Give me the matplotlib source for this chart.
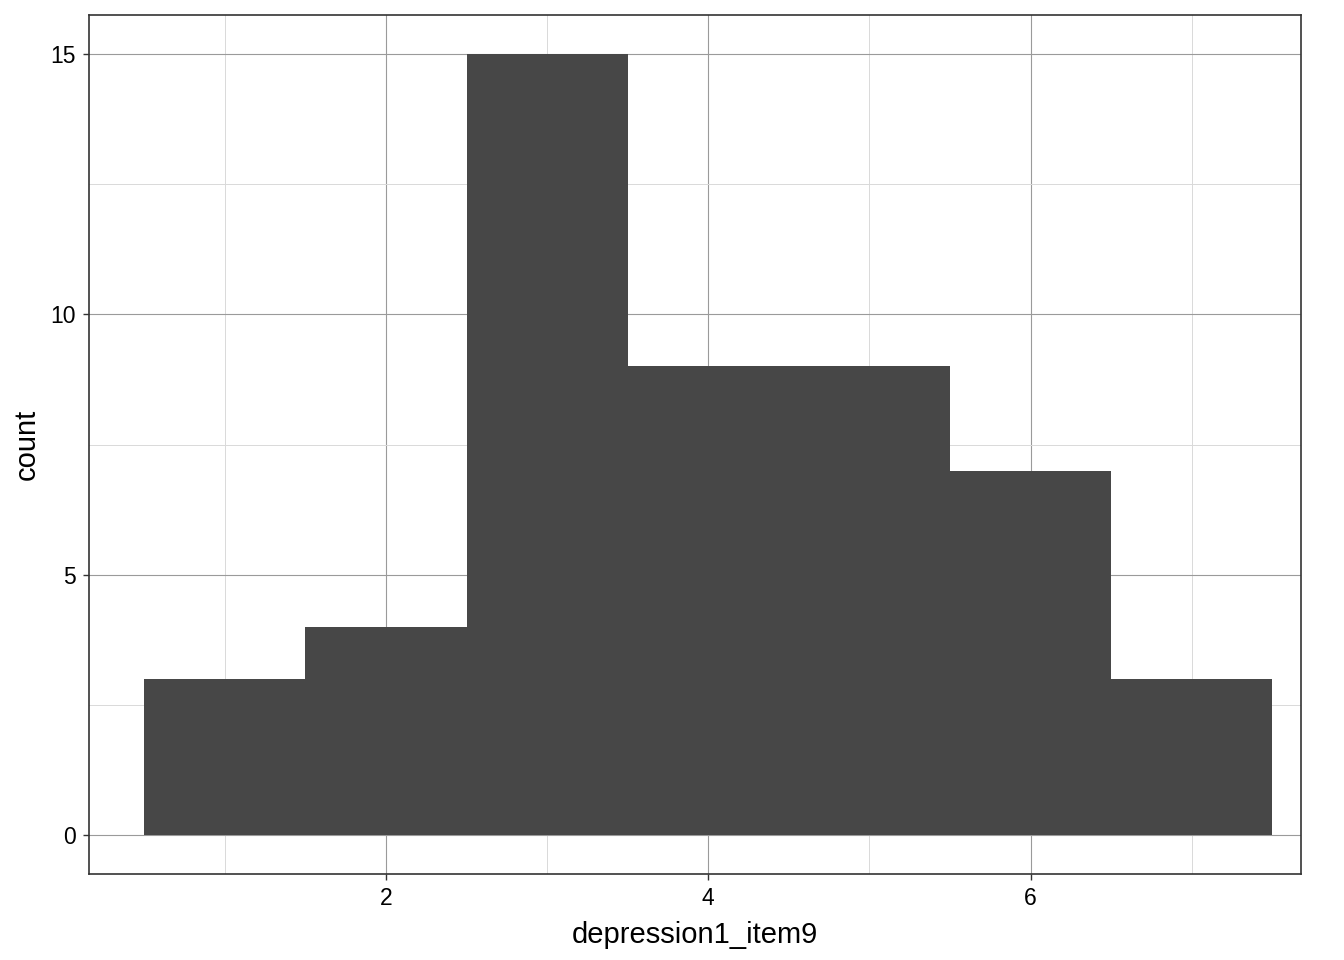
import matplotlib
matplotlib.use("Agg")
import matplotlib.pyplot as plt
import numpy as np

plt.rcParams['font.family'] = ['Liberation Sans', 'DejaVu Sans']

bin_centers = [1, 2, 3, 4, 5, 6, 7]
counts = [3, 4, 15, 9, 9, 7, 3]
x_label = "depression1_item9"
y_label = "count"
x_ticks = [2, 4, 6]
y_ticks = [0, 5, 10, 15]

fig = plt.figure(figsize=(13.44, 9.6), dpi=100)
ax = fig.add_axes([89/1344, 86/960, (1301-89)/1344, (874-15)/960])

ax.bar(bin_centers, counts, width=1.0, color='#474747', edgecolor='none', zorder=3)

ax.set_xlim(0.158, 7.677)
ax.set_ylim(-0.75, 15.75)
ax.set_xticks(x_ticks)
ax.set_yticks(y_ticks)
ax.set_xticks([1, 3, 5, 7], minor=True)
ax.set_yticks([2.5, 7.5, 12.5], minor=True)

ax.grid(which='major', color='#9a9a9a', linewidth=0.8, zorder=0)
ax.grid(which='minor', color='#d9d9d9', linewidth=0.7, zorder=0)
ax.set_axisbelow(True)

for s in ax.spines.values():
    s.set_color('#333333')
    s.set_linewidth(1.2)

ax.tick_params(which='major', length=4.5, width=1.0, color='#333333',
               labelsize=16.5, labelcolor='black', pad=5)
ax.tick_params(which='minor', length=0)

ax.set_xlabel(x_label, fontsize=21, labelpad=8)
ax.set_ylabel(y_label, fontsize=21, labelpad=7)

fig.savefig("out.png", dpi=100)
